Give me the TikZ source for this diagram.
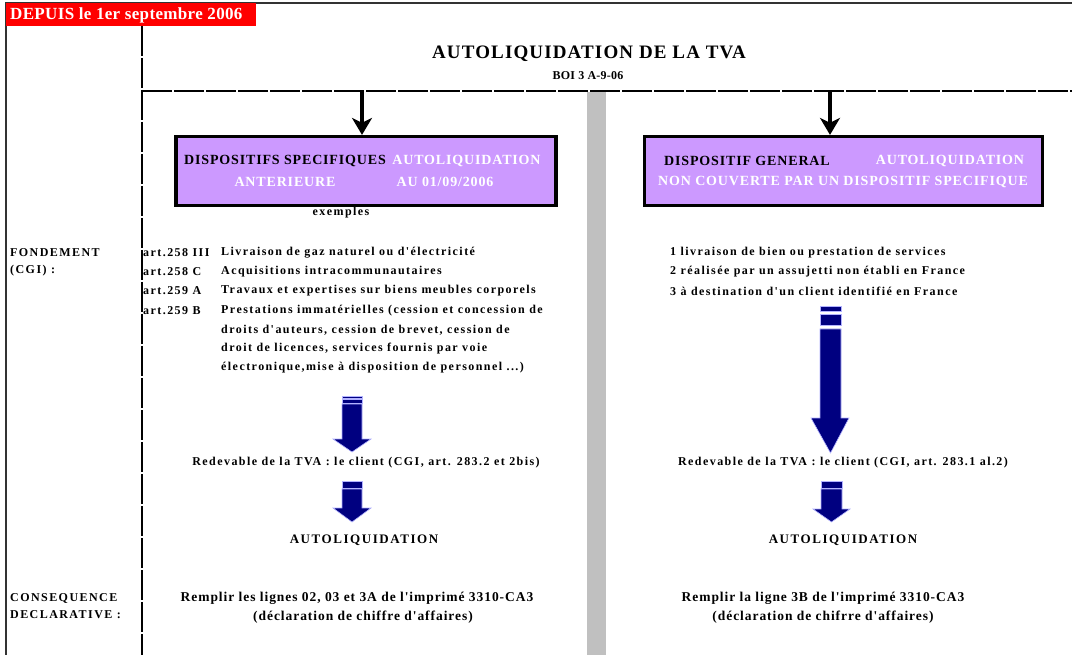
\documentclass[tikz,border=0pt]{standalone}
\usepackage{fontspec}
\setmainfont{Liberation Serif}
\newfontfamily\bodyf{Liberation Serif}[LetterSpace=12]
\newfontfamily\botf{Liberation Serif}[LetterSpace=7]
\newfontfamily\titlef{Liberation Serif}[LetterSpace=6]
\newfontfamily\boxf{Liberation Serif}[LetterSpace=6]
\newfontfamily\redf{Liberation Serif}[LetterSpace=2]
\usetikzlibrary{arrows.meta}
\definecolor{lav}{HTML}{CC99FF}
\definecolor{navyc}{HTML}{000080}
\definecolor{barg}{HTML}{C0C0C0}
\tikzset{
  txt/.style={inner sep=0pt, font=\bodyf\bfseries\fontsize{12}{14}\selectfont},
  lefttxt/.style={txt, anchor=west},
  bottxt/.style={inner sep=0pt, font=\botf\bfseries\fontsize{13.5}{15}\selectfont},
  autotxt/.style={inner sep=0pt, font=\bodyf\bfseries\fontsize{13}{15}\selectfont},
  boxtxt/.style={inner sep=0pt, font=\boxf\bfseries\fontsize{14}{16}\selectfont},
  purplebox/.style={draw=black, line width=3.2pt, fill=lav, inner sep=0pt},
  bigarrow/.style={line width=4.5pt, -{Stealth[length=17pt,width=20pt,inset=5pt]}},
  navy/.style={fill=navyc, draw=blue!30, line width=0.6pt},
  rule/.style={line width=2pt, dash pattern=on 30pt off 2pt},
}
\begin{document}
\begin{tikzpicture}[x=1pt,y=-1pt]
\useasboundingbox (0,0) rectangle (1072,655);
\fill[white] (0,0) rectangle (1072,655);
% frame
\draw[line width=1.3pt, black!80] (6,655) -- (6,3) -- (1072,3);
\fill[red] (6,3) rectangle (256,26);
\node[inner sep=0pt, anchor=west, text=white, font=\redf\bfseries\fontsize{17}{19}\selectfont] (depuis) at (10,15) {DEPUIS le 1er septembre 2006};
% gray bar
\fill[barg] (587,92) rectangle (606,655);
% rules
\draw[rule] (142,26) -- (142,655);
\draw[rule] (142,91) -- (1072,91);
% title
\node[inner sep=0pt, font=\titlef\bfseries\fontsize{19}{21}\selectfont] (title) at (589,54) {AUTOLIQUIDATION DE LA TVA};
\node[inner sep=0pt, font=\redf\bfseries\fontsize{12}{13}\selectfont] (boi) at (588,76) {BOI 3 A-9-06};
% boxes
\node[purplebox, minimum width=380pt, minimum height=69pt] (boxL) at (366,171) {};
\node[purplebox, minimum width=398pt, minimum height=69pt] (boxR) at (843.5,171) {};
\coordinate (srcL) at (362,91);
\coordinate (srcR) at (830,91);
\draw[bigarrow] (srcL) -- (srcL |- boxL.north);
\draw[bigarrow] (srcR) -- (srcR |- boxR.north);
\node[boxtxt] (bl1) at (285,161) {DISPOSITIFS SPECIFIQUES};
\node[boxtxt, text=white] (bl2) at (466.5,161) {AUTOLIQUIDATION};
\node[boxtxt, text=white] (bl3) at (285,182) {ANTERIEURE};
\node[boxtxt, text=white] (bl4) at (445,182) {AU 01/09/2006};
\node[boxtxt] (br1) at (747,161) {DISPOSITIF GENERAL};
\node[boxtxt, text=white] (br2) at (950,161) {AUTOLIQUIDATION};
\node[boxtxt, text=white] (br3) at (843,182) {NON COUVERTE PAR UN DISPOSITIF SPECIFIQUE};
\node[txt] (ex) at (341,213) {exemples};
% left labels
\node[lefttxt] (fond1) at (10,253) {FONDEMENT};
\node[lefttxt] (fond2) at (10,271) {(CGI) :};
\node[lefttxt] (a1) at (143,253) {art.258 III};
\node[lefttxt] (a2) at (143,272) {art.258 C};
\node[lefttxt] (a3) at (143,291) {art.259 A};
\node[lefttxt] (a4) at (143,311) {art.259 B};
\node[lefttxt] (d1) at (221,253) {Livraison de gaz naturel ou d'électricité};
\node[lefttxt] (d2) at (221,272) {Acquisitions intracommunautaires};
\node[lefttxt] (d3) at (221,291) {Travaux et expertises sur biens meubles corporels};
\node[lefttxt] (d4) at (221,311) {Prestations immatérielles (cession et concession de};
\node[lefttxt] (d5) at (221,330) {droits d'auteurs, cession de brevet, cession de};
\node[lefttxt] (d6) at (221,349) {droit de licences, services fournis par voie};
\node[lefttxt] (d7) at (221,368) {électronique,mise à disposition de personnel ...)};
% right list
\node[lefttxt] (r1) at (670,253) {1 livraison de bien ou prestation de services};
\node[lefttxt] (r2) at (670,272) {2 réalisée par un assujetti non établi en France};
\node[lefttxt] (r3) at (670,291) {3 à destination d'un client identifié en France};
% navy arrows left
\fill[navy] (342,396) rectangle (362,398.5);
\fill[navy] (342,399.5) rectangle (362,403);
\fill[navy] (342,404) -- (362,404) -- (362,439) -- (371,439) -- (352,452) -- (333,439) -- (342,439) -- cycle;
\fill[navy] (342,481) rectangle (362,488);
\fill[navy] (342,489) -- (362,489) -- (362,508) -- (371,508) -- (352,522) -- (333,508) -- (342,508) -- cycle;
% navy arrows right
\fill[navy] (820,306) rectangle (841,311);
\fill[navy] (820,314) rectangle (841,325);
\fill[navy] (820,329) -- (841,329) -- (841,418) -- (849,418) -- (830.5,453) -- (811,418) -- (820,418) -- cycle;
\fill[navy] (821,481) rectangle (842,488);
\fill[navy] (821,489) -- (842,489) -- (842,509) -- (850,509) -- (831.5,522) -- (813,509) -- (821,509) -- cycle;
% redevable
\node[txt] (redL) at (366,463) {Redevable de la TVA : le client (CGI, art. 283.2 et 2bis)};
\node[txt] (redR) at (843,463) {Redevable de la TVA : le client (CGI, art. 283.1 al.2)};
\node[autotxt] (autoL) at (364,540) {AUTOLIQUIDATION};
\node[autotxt] (autoR) at (843,540) {AUTOLIQUIDATION};
% consequence
\node[lefttxt] (cons1) at (10,598) {CONSEQUENCE};
\node[lefttxt] (cons2) at (10,615) {DECLARATIVE :};
\node[bottxt] (bL1) at (357,598) {Remplir les lignes 02, 03 et 3A de l'imprimé 3310-CA3};
\node[bottxt] (bL2) at (363,617) {(déclaration de chiffre d'affaires)};
\node[bottxt] (bR1) at (823,598) {Remplir la ligne 3B de l'imprimé 3310-CA3};
\node[bottxt] (bR2) at (823,617) {(déclaration de chifrre d'affaires)};
\end{tikzpicture}
\end{document}
